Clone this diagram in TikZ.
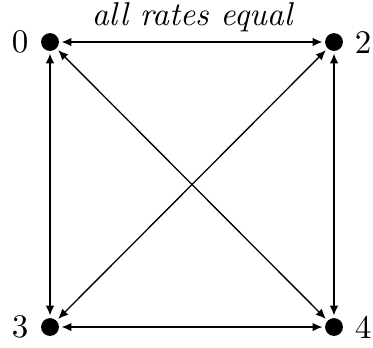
\documentclass[tikz,border=0pt]{standalone}
\usetikzlibrary{arrows.meta}
\begin{document}
\begin{tikzpicture}[x=0.303pt,y=-0.303pt,
  state/.style={circle,fill=black,inner sep=0pt,minimum size=5.4pt,outer sep=0.8pt},
  link/.style={arrows={Latex[length=3pt,width=2.6pt]-Latex[length=3pt,width=2.6pt]},line width=0.4pt},
  lbl/.style={inner sep=0pt,font=\normalsize}]
\useasboundingbox (0,0) rectangle (373,347);
\node[state] (n0) at (50,42) {};
\node[state] (n2) at (334,42) {};
\node[state] (n3) at (50,327) {};
\node[state] (n4) at (334,327) {};
\node[lbl] (l0) at (20,42) {0};
\node[lbl] (l2) at (363,42) {2};
\node[lbl] (l3) at (20,327) {3};
\node[lbl] (l4) at (363,327) {4};
\draw[link] (n0) -- node[anchor=base,inner sep=0pt,yshift=5pt,font=\itshape] (t) {all rates equal} (n2);
\draw[link] (n0) -- (n3);
\draw[link] (n0) -- (n4);
\draw[link] (n2) -- (n3);
\draw[link] (n2) -- (n4);
\draw[link] (n3) -- (n4);
\end{tikzpicture}
\end{document}
